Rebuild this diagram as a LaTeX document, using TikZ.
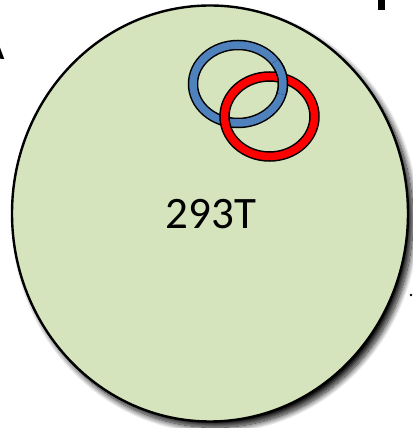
\documentclass[tikz,border=0pt]{standalone}
\usepackage{fontspec}
\setmainfont{Carlito}
\usetikzlibrary{calc,shadows.blur}
\definecolor{cellgreen}{HTML}{D5E4BC}
\definecolor{ringblue}{HTML}{4F81BD}
\definecolor{ringred}{HTML}{FF0000}
\tikzset{
  ringout/.style={draw=black, line width=10.5pt},
  ringin/.style={line width=7.5pt},
}
\begin{document}
\begin{tikzpicture}[x=1pt,y=1pt]
\useasboundingbox (0,0) rectangle (412,428);
% cut-off fragments at the edges
\node[font=\fontsize{44}{44}\selectfont, anchor=base east, inner sep=0pt] (labA) at (5,368) {A};
\fill (378,418) rectangle (385,430);
\fill (411,133) circle (1.3);
% cell
\path[fill=cellgreen, draw=black, line width=2.4pt,
  blur shadow={shadow xshift=5pt, shadow yshift=-6pt, shadow blur radius=6pt, shadow blur steps=14, shadow opacity=95}]
  (210,214.5) ellipse [x radius=198, y radius=208];
\coordinate (cb) at (238,344);
\coordinate (cr) at (269.5,311.5);
% blue ring
\draw[ringout] (cb) ellipse [x radius=45, y radius=39];
\draw[ringin, ringblue] (cb) ellipse [x radius=45, y radius=39];
% red ring
\draw[ringout] (cr) ellipse [x radius=45, y radius=40];
\draw[ringin, ringred] (cr) ellipse [x radius=45, y radius=40];
% blue over red at the top-right crossing
\draw[ringout] ($(cb)+(-15:45 and 39)$) arc[start angle=-15, end angle=35, x radius=45, y radius=39];
\draw[ringin, ringblue] ($(cb)+(-15:45 and 39)$) arc[start angle=-15, end angle=35, x radius=45, y radius=39];
% label
\node[font=\fontsize{45}{45}\selectfont, inner sep=0pt] (lbl) at (211,214) {293T};
\end{tikzpicture}
\end{document}
